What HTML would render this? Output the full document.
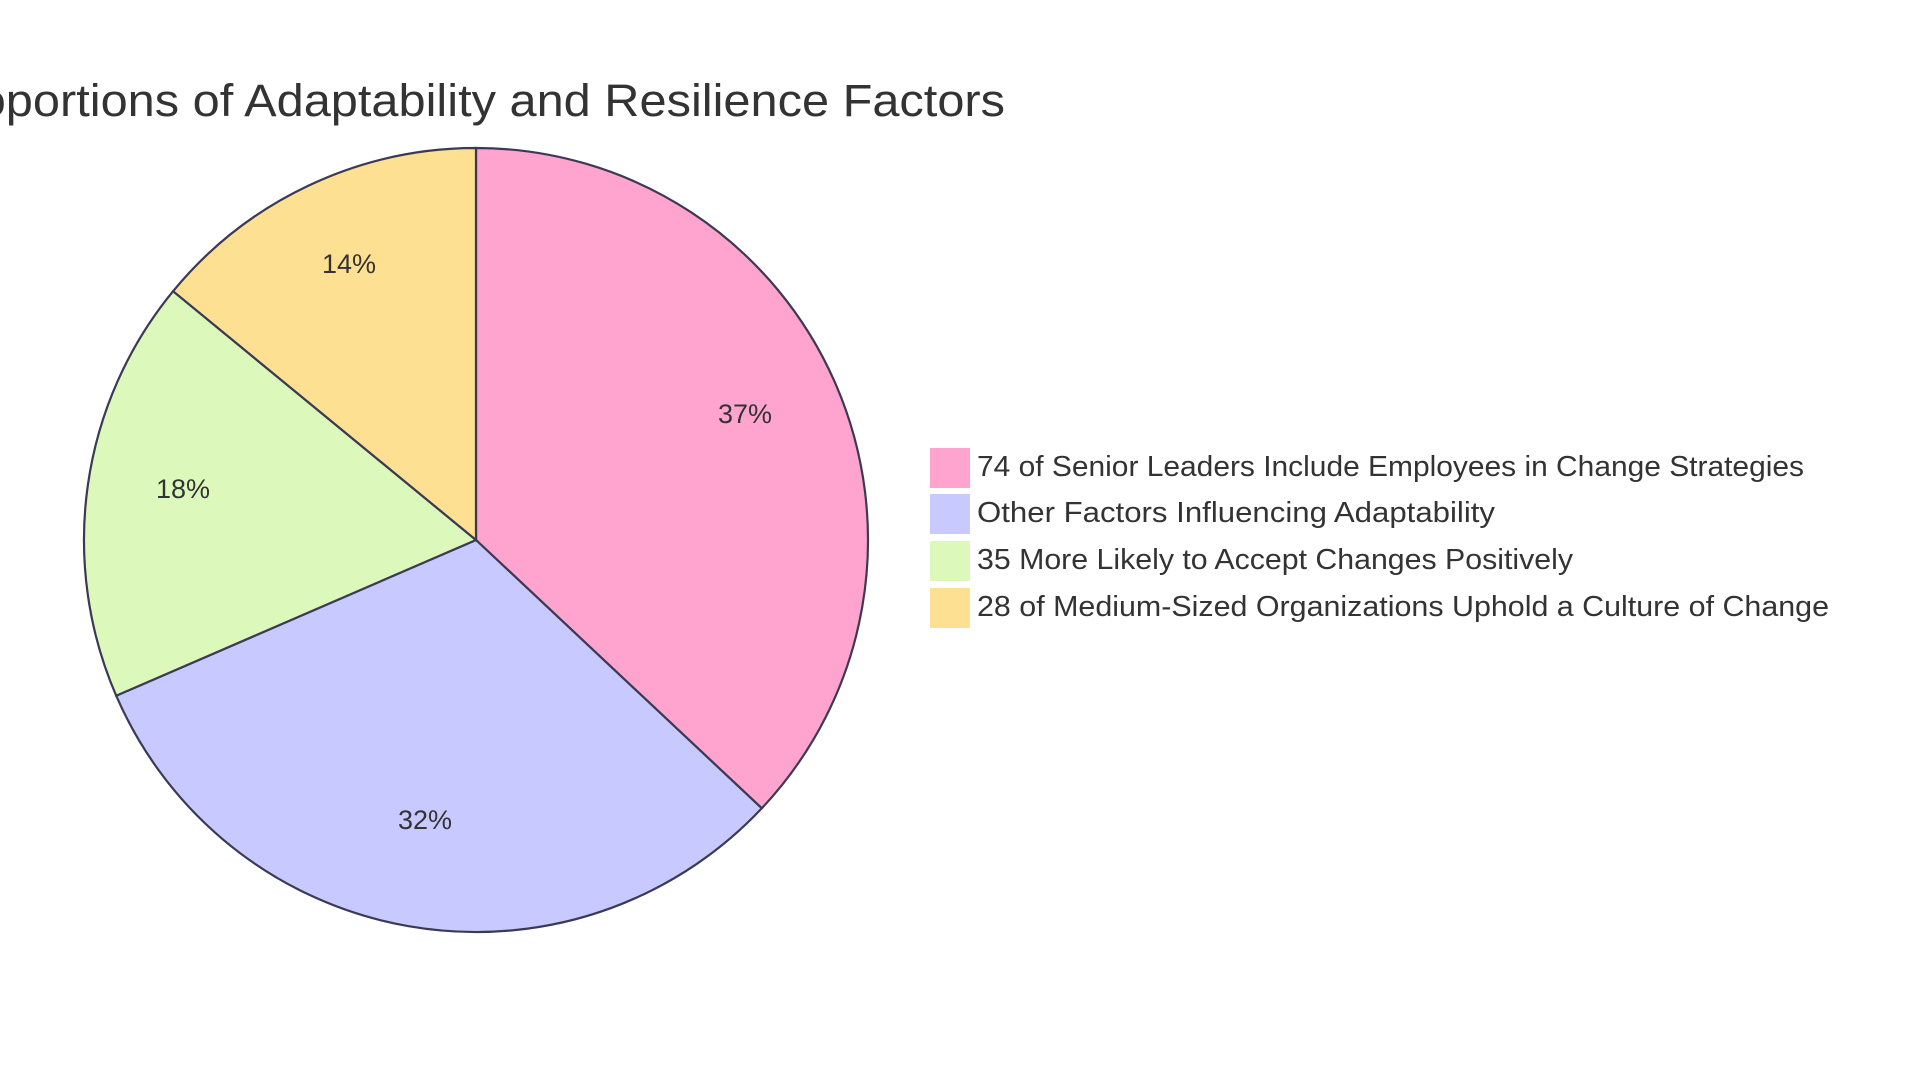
<!DOCTYPE html>
<html><head><meta charset="utf-8"><style>
html,body{margin:0;padding:0;background:#fff;width:1920px;height:1083px;overflow:hidden}
text{font-family:"Liberation Sans",sans-serif;fill:#333}
</style></head><body>
<svg width="1920" height="1083" viewBox="0 0 1920 1083" xmlns="http://www.w3.org/2000/svg">
<text x="1005" y="116" text-anchor="end" font-size="45" fill="#333" textLength="1075" lengthAdjust="spacingAndGlyphs">Proportions of Adaptability and Resilience Factors</text>
<g stroke="#3b3a55" stroke-width="2.2">
<path d="M476,540 L476,148 A392,392 0 0 1 761.8,808.3 Z" fill="#ffa3cf"/>
<path d="M476,540 L761.8,808.3 A392,392 0 0 1 116.2,695.7 Z" fill="#c8caff"/>
<path d="M476,540 L116.2,695.7 A392,392 0 0 1 173.1,291.2 Z" fill="#dcf9bb"/>
<path d="M476,540 L173.1,291.2 A392,392 0 0 1 476,148 Z" fill="#fee092"/>
</g>
<g font-size="27" text-anchor="middle">
<text x="745" y="423">37%</text>
<text x="425" y="829">32%</text>
<text x="183" y="498">18%</text>
<text x="349" y="273">14%</text>
</g>
<g>
<rect x="930" y="448" width="40" height="40" fill="#ffa3cf"/>
<rect x="930" y="494" width="40" height="40" fill="#c8caff"/>
<rect x="930" y="541" width="40" height="40" fill="#dcf9bb"/>
<rect x="930" y="588" width="40" height="40" fill="#fee092"/>
</g>
<g font-size="29">
<text x="977" y="476" textLength="827" lengthAdjust="spacingAndGlyphs">74 of Senior Leaders Include Employees in Change Strategies</text>
<text x="977" y="522" textLength="518" lengthAdjust="spacingAndGlyphs">Other Factors Influencing Adaptability</text>
<text x="977" y="569" textLength="596" lengthAdjust="spacingAndGlyphs">35 More Likely to Accept Changes Positively</text>
<text x="977" y="616" textLength="852" lengthAdjust="spacingAndGlyphs">28 of Medium-Sized Organizations Uphold a Culture of Change</text>
</g>
</svg>
</body></html>
